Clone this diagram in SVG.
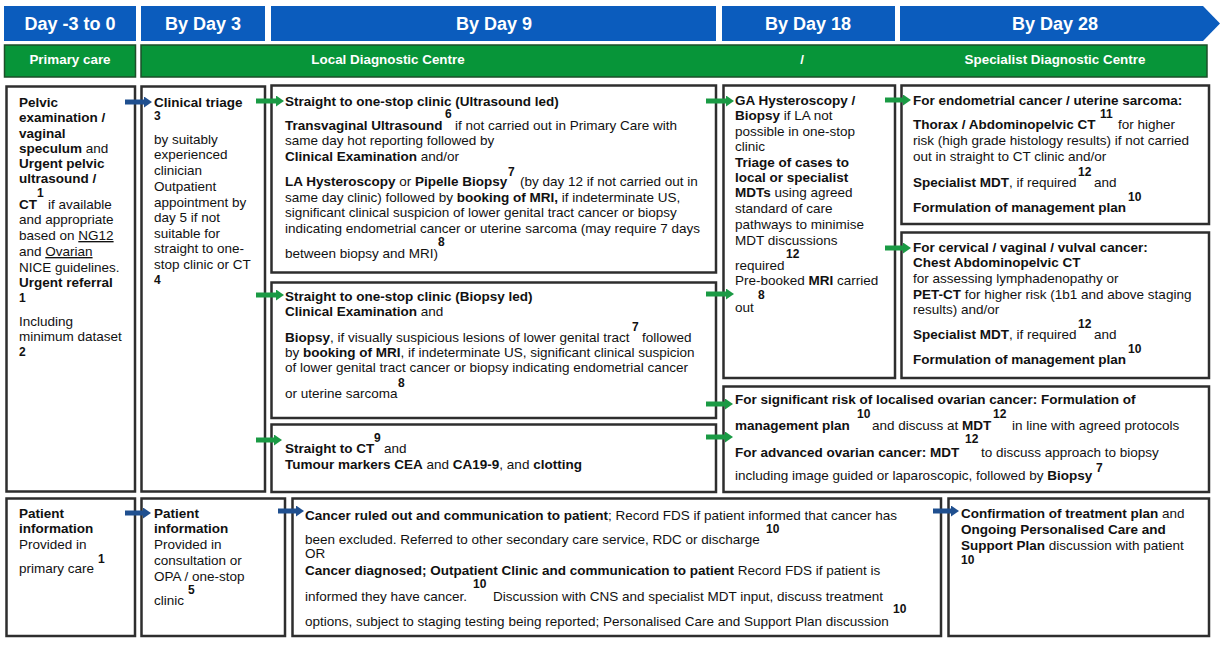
<svg xmlns="http://www.w3.org/2000/svg" width="1223" height="647" viewBox="0 0 1223 647">
<style>
text{font-family:"Liberation Sans",Arial,sans-serif;font-size:13.5px;fill:#111}
.b{font-weight:bold}
.s{font-size:12px;font-weight:bold}
.hd{font-size:18px;font-weight:bold;fill:#fff;text-anchor:middle}
.gn{font-size:13.4px;font-weight:bold;fill:#fff;text-anchor:middle}
.blue{fill:#0b5cbd}
.green{fill:#079539;stroke:#1d4f2a;stroke-width:1.5}
.box{fill:#fff;stroke:#2e2e2e;stroke-width:2.5}
.ab{stroke:#1f4f8f;stroke-width:5;fill:none}
.ag{stroke:#1a9a44;stroke-width:5;fill:none}
.u{text-decoration:underline}
</style>
<defs>
<marker id="mb" markerUnits="userSpaceOnUse" markerWidth="8" markerHeight="11" refX="0" refY="5.5" orient="auto"><path d="M0,0 L8,5.5 L0,11 z" fill="#1f4f8f"/></marker>
<marker id="mg" markerUnits="userSpaceOnUse" markerWidth="8" markerHeight="11" refX="0" refY="5.5" orient="auto"><path d="M0,0 L8,5.5 L0,11 z" fill="#1a9a44"/></marker>
</defs>
<rect width="1223" height="647" fill="#fff"/>

<g id="timeline">
<rect class="blue" x="4" y="6" width="132" height="35"/>
<rect class="blue" x="141" y="6" width="124" height="35"/>
<rect class="blue" x="271" y="6" width="445" height="35"/>
<rect class="blue" x="722" y="6" width="173" height="35"/>
<polygon class="blue" points="900,6 1203,6 1220,23.5 1203,41 900,41"/>
<text class="hd" x="70" y="29.5">Day -3 to 0</text>
<text class="hd" x="203" y="29.5">By Day 3</text>
<text class="hd" x="494" y="29.5">By Day 9</text>
<text class="hd" x="808" y="29.5">By Day 18</text>
<text class="hd" x="1055" y="29.5">By Day 28</text>
<rect class="green" x="4.5" y="45" width="131" height="32"/>
<rect class="green" x="141" y="45" width="1066" height="32"/>
<text class="gn" x="70" y="64">Primary care</text>
<text class="gn" x="388" y="64">Local Diagnostic Centre</text>
<text class="gn" x="802" y="64">/</text>
<text class="gn" x="1055" y="64">Specialist Diagnostic Centre</text>
</g>

<g id="nodeA">
<rect class="box" x="6.5" y="86.5" width="128.5" height="405"/>
<text x="19" y="107" class="b">Pelvic</text>
<text x="19" y="122" class="b">examination /</text>
<text x="19" y="138" class="b">vaginal</text>
<text x="19" y="153"><tspan class="b">speculum</tspan> and</text>
<text x="19" y="168" class="b">Urgent pelvic</text>
<text x="19" y="183" class="b">ultrasound /</text>
<text x="37" y="197" class="s">1</text>
<text x="19" y="209" class="b">CT</text>
<text x="48" y="209">if available</text>
<text x="19" y="224">and appropriate</text>
<text x="19" y="240">based on <tspan class="u">NG12</tspan></text>
<text x="19" y="256">and <tspan class="u">Ovarian</tspan></text>
<text x="19" y="272">NICE guidelines.</text>
<text x="19" y="287" class="b">Urgent referral</text>
<text x="19" y="302" class="s">1</text>
<text x="19" y="326">Including</text>
<text x="19" y="341">minimum dataset</text>
<text x="19" y="356" class="s">2</text>
</g>

<g id="nodeB">
<rect class="box" x="141.5" y="86.5" width="123.5" height="405"/>
<text x="154" y="107" class="b">Clinical triage</text>
<text x="154" y="120" class="s">3</text>
<text x="154" y="144">by suitably</text>
<text x="154" y="159">experienced</text>
<text x="154" y="175">clinician</text>
<text x="154" y="191">Outpatient</text>
<text x="154" y="207">appointment by</text>
<text x="154" y="222">day 5 if not</text>
<text x="154" y="238">suitable for</text>
<text x="154" y="253">straight to one-</text>
<text x="154" y="269">stop clinic or CT</text>
<text x="154" y="284" class="s">4</text>
</g>

<g id="nodeC1">
<rect class="box" x="271.5" y="85.5" width="444.5" height="187"/>
<text x="285" y="106" class="b">Straight to one-stop clinic (Ultrasound led)</text>
<text x="445" y="118" class="s">6</text>
<text x="285" y="130" class="b">Transvaginal Ultrasound</text>
<text x="455" y="130">if not carried out in Primary Care with</text>
<text x="285" y="145">same day hot reporting followed by</text>
<text x="285" y="161"><tspan class="b">Clinical Examination</tspan> and/or</text>
<text x="508" y="176" class="s">7</text>
<text x="285" y="186"><tspan class="b">LA Hysteroscopy</tspan> or <tspan class="b">Pipelle Biopsy</tspan></text>
<text x="520" y="186">(by day 12 if not carried out in</text>
<text x="285" y="202">same day clinic) followed by <tspan class="b">booking of MRI,</tspan> if indeterminate US,</text>
<text x="285" y="217">significant clinical suspicion of lower genital tract cancer or biopsy</text>
<text x="285" y="233">indicating endometrial cancer or uterine sarcoma (may require 7 days</text>
<text x="438" y="246" class="s">8</text>
<text x="285" y="258">between biopsy and MRI)</text>
</g>

<g id="nodeC2">
<rect class="box" x="271.5" y="282.5" width="444.5" height="135.5"/>
<text x="285" y="301" class="b">Straight to one-stop clinic (Biopsy led)</text>
<text x="285" y="316"><tspan class="b">Clinical Examination</tspan> and</text>
<text x="632" y="331" class="s">7</text>
<text x="285" y="342"><tspan class="b">Biopsy</tspan>, if visually suspicious lesions of lower genital tract</text>
<text x="642" y="342">followed</text>
<text x="285" y="357">by <tspan class="b">booking of MRI</tspan>, if indeterminate US, significant clinical suspicion</text>
<text x="285" y="372">of lower genital tract cancer or biopsy indicating endometrial cancer</text>
<text x="398" y="387" class="s">8</text>
<text x="285" y="398">or uterine sarcoma</text>
</g>

<g id="nodeC3">
<rect class="box" x="271.5" y="424.5" width="444.5" height="67.5"/>
<text x="374" y="442" class="s">9</text>
<text x="285" y="453" class="b">Straight to CT</text>
<text x="384" y="453">and</text>
<text x="285" y="469"><tspan class="b">Tumour markers CEA</tspan> and <tspan class="b">CA19-9</tspan>, and <tspan class="b">clotting</tspan></text>
</g>

<g id="nodeD">
<rect class="box" x="723.5" y="85.5" width="171.5" height="292.5"/>
<text x="735" y="105" class="b">GA Hysteroscopy /</text>
<text x="735" y="120"><tspan class="b">Biopsy</tspan> if LA not</text>
<text x="735" y="136">possible in one-stop</text>
<text x="735" y="151">clinic</text>
<text x="735" y="167" class="b">Triage of cases to</text>
<text x="735" y="182" class="b">local or specialist</text>
<text x="735" y="197"><tspan class="b">MDTs</tspan> using agreed</text>
<text x="735" y="213">standard of care</text>
<text x="735" y="229">pathways to minimise</text>
<text x="735" y="245">MDT discussions</text>
<text x="786" y="258" class="s">12</text>
<text x="735" y="270">required</text>
<text x="735" y="285">Pre-booked <tspan class="b">MRI</tspan> carried</text>
<text x="758" y="299" class="s">8</text>
<text x="735" y="312">out</text>
</g>

<g id="nodeE1">
<rect class="box" x="901.5" y="85.5" width="307.5" height="138.5"/>
<text x="913" y="105" class="b">For endometrial cancer / uterine sarcoma:</text>
<text x="1100" y="118" class="s">11</text>
<text x="913" y="129" class="b">Thorax / Abdominopelvic CT</text>
<text x="1118" y="129">for higher</text>
<text x="913" y="145">risk (high grade histology results) if not carried</text>
<text x="913" y="161">out in straight to CT clinic and/or</text>
<text x="1078" y="176" class="s">12</text>
<text x="913" y="187"><tspan class="b">Specialist MDT</tspan>, if required</text>
<text x="1094" y="187">and</text>
<text x="1128" y="201" class="s">10</text>
<text x="913" y="212" class="b">Formulation of management plan</text>
</g>

<g id="nodeE2">
<rect class="box" x="901.5" y="232.5" width="307.5" height="145.5"/>
<text x="913" y="252" class="b">For cervical / vaginal / vulval cancer:</text>
<text x="913" y="267" class="b">Chest Abdominopelvic CT</text>
<text x="913" y="283">for assessing lymphadenopathy or</text>
<text x="913" y="299"><tspan class="b">PET-CT</tspan> for higher risk (1b1 and above staging</text>
<text x="913" y="314">results) and/or</text>
<text x="1078" y="328" class="s">12</text>
<text x="913" y="339"><tspan class="b">Specialist MDT</tspan>, if required</text>
<text x="1094" y="339">and</text>
<text x="1128" y="353" class="s">10</text>
<text x="913" y="364" class="b">Formulation of management plan</text>
</g>

<g id="nodeF">
<rect class="box" x="723.5" y="386.5" width="485.5" height="105.5"/>
<text x="735" y="404" class="b">For significant risk of localised ovarian cancer: Formulation of</text>
<text x="857" y="418" class="s">10</text>
<text x="993" y="418" class="s">12</text>
<text x="735" y="430" class="b">management plan</text>
<text x="872" y="430">and discuss at <tspan class="b">MDT</tspan></text>
<text x="1012" y="430">in line with agreed protocols</text>
<text x="965" y="443" class="s">12</text>
<text x="735" y="457" class="b">For advanced ovarian cancer: MDT</text>
<text x="981" y="457">to discuss approach to biopsy</text>
<text x="1096" y="472" class="s">7</text>
<text x="735" y="480">including image guided or laparoscopic, followed by <tspan class="b">Biopsy</tspan></text>
</g>

<g id="nodeG">
<rect class="box" x="6.5" y="498.5" width="128.5" height="137.5"/>
<text x="19" y="518" class="b">Patient</text>
<text x="19" y="533" class="b">information</text>
<text x="19" y="549">Provided in</text>
<text x="98" y="563" class="s">1</text>
<text x="19" y="573">primary care</text>
</g>

<g id="nodeH">
<rect class="box" x="141.5" y="498.5" width="143.5" height="137.5"/>
<text x="154" y="518" class="b">Patient</text>
<text x="154" y="533" class="b">information</text>
<text x="154" y="549">Provided in</text>
<text x="154" y="565">consultation or</text>
<text x="154" y="581">OPA / one-stop</text>
<text x="188" y="594" class="s">5</text>
<text x="154" y="605">clinic</text>
</g>

<g id="nodeI">
<rect class="box" x="292.5" y="498.5" width="648.5" height="137.5"/>
<text x="305" y="520"><tspan class="b">Cancer ruled out and communication to patient</tspan>; Record FDS if patient informed that cancer has</text>
<text x="766" y="533" class="s">10</text>
<text x="305" y="544">been excluded. Referred to other secondary care service, RDC or discharge</text>
<text x="305" y="558">OR</text>
<text x="305" y="575"><tspan class="b">Cancer diagnosed; Outpatient Clinic and communication to patient</tspan> Record FDS if patient is</text>
<text x="473" y="588" class="s">10</text>
<text x="305" y="601">informed they have cancer.</text>
<text x="493" y="601">Discussion with CNS and specialist MDT input, discuss treatment</text>
<text x="893" y="613" class="s">10</text>
<text x="305" y="626">options, subject to staging testing being reported; Personalised Care and Support Plan discussion</text>
</g>

<g id="nodeJ">
<rect class="box" x="948.5" y="498.5" width="260.5" height="137.5"/>
<text x="961" y="518"><tspan class="b">Confirmation of treatment plan</tspan> and</text>
<text x="961" y="534" class="b">Ongoing Personalised Care and</text>
<text x="961" y="550"><tspan class="b">Support Plan</tspan> discussion with patient</text>
<text x="961" y="564" class="s">10</text>
</g>

<g id="connectors">
<line class="ab" x1="125" y1="102" x2="144" y2="102" marker-end="url(#mb)"/>
<line class="ab" x1="125" y1="513" x2="143" y2="513" marker-end="url(#mb)"/>
<line class="ab" x1="278" y1="511" x2="296" y2="511" marker-end="url(#mb)"/>
<line class="ab" x1="933" y1="511" x2="951" y2="511" marker-end="url(#mb)"/>
<line class="ag" x1="256" y1="101" x2="276" y2="101" marker-end="url(#mg)"/>
<line class="ag" x1="256" y1="295" x2="276" y2="295" marker-end="url(#mg)"/>
<line class="ag" x1="256" y1="440" x2="274" y2="440" marker-end="url(#mg)"/>
<line class="ag" x1="706" y1="101" x2="726" y2="101" marker-end="url(#mg)"/>
<line class="ag" x1="706" y1="294" x2="726" y2="294" marker-end="url(#mg)"/>
<line class="ag" x1="885" y1="100" x2="903" y2="100" marker-end="url(#mg)"/>
<line class="ag" x1="885" y1="248" x2="903" y2="248" marker-end="url(#mg)"/>
<line class="ag" x1="706" y1="404" x2="725" y2="404" marker-end="url(#mg)"/>
<line class="ag" x1="706" y1="437" x2="725" y2="437" marker-end="url(#mg)"/>
</g>
</svg>
